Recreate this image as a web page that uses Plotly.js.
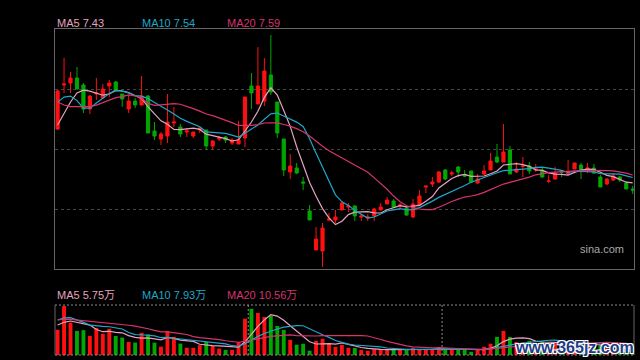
<!DOCTYPE html>
<html>
<head>
<meta charset="utf-8">
<script src="https://cdn.plot.ly/plotly-3.0.1.min.js"></script>
<style>
html,body{margin:0;padding:0;background:#000;}
#chart{width:640px;height:360px;}
</style>
</head>
<body>
<div id="chart"></div>
<script>
// ---- data ----
const dayIndex = Array.from({length: 90}, (_, i) => i);

const opens = [
  8.50, 9.38, 9.42, 9.52, 9.38, 8.90, 9.20, 9.12, 9.36, 9.44,
  9.20, 8.90, 9.06, 8.98, 9.16, 8.46, 8.30, 8.36, 8.62, 8.54,
  8.44, 8.36, 8.48, 8.48, 8.16, 8.30, 8.34, 8.22, 8.20, 8.32,
  9.36, 9.00, 9.06, 9.58, 9.04, 8.30, 7.64, 7.72, 7.44, 6.86,
  6.08, 6.06, 6.68, 6.68, 6.88, 6.94, 6.96, 6.74, 6.72, 6.76,
  6.88, 7.00, 7.06, 6.96, 6.92, 6.74, 6.98, 7.34, 7.40, 7.44,
  7.68, 7.60, 7.74, 7.58, 7.66, 7.42, 7.60, 7.68, 7.94, 7.84,
  8.08, 7.64, 7.75, 7.76, 7.68, 7.68, 7.45, 7.50, 7.66, 7.60,
  7.70, 7.78, 7.70, 7.72, 7.54, 7.40, 7.48, 7.54, 7.42, 7.30
];
const highs = [
  9.28, 9.92, 9.64, 9.74, 9.42, 9.18, 9.52, 9.40, 9.48, 9.46,
  9.20, 9.18, 9.12, 9.56, 9.18, 8.64, 8.44, 9.20, 8.94, 8.60,
  8.52, 8.44, 8.52, 8.48, 8.28, 8.36, 8.36, 8.32, 8.66, 9.14,
  9.62, 10.14, 9.92, 10.38, 9.04, 8.30, 8.00, 7.82, 7.54, 6.98,
  6.54, 6.62, 6.82, 6.88, 7.04, 7.02, 6.98, 6.80, 6.80, 6.92,
  7.02, 7.14, 7.10, 7.02, 6.94, 7.10, 7.28, 7.36, 7.54, 7.66,
  7.70, 7.66, 7.76, 7.68, 7.66, 7.60, 7.78, 8.02, 8.20, 8.60,
  8.16, 7.84, 7.94, 7.84, 7.80, 7.74, 7.58, 7.74, 7.68, 7.88,
  7.82, 7.82, 7.82, 7.80, 7.58, 7.52, 7.62, 7.56, 7.46, 7.36
];
const lows = [
  8.48, 9.22, 9.22, 9.30, 8.82, 8.80, 9.08, 9.10, 9.14, 9.26,
  8.94, 8.82, 8.92, 8.98, 8.42, 8.28, 8.18, 8.22, 8.54, 8.34,
  8.34, 8.32, 8.42, 8.08, 8.08, 8.26, 8.22, 8.18, 8.20, 8.14,
  8.90, 9.00, 8.96, 9.18, 8.32, 7.56, 7.50, 7.60, 7.28, 6.68,
  6.08, 5.74, 6.66, 6.62, 6.88, 6.84, 6.66, 6.66, 6.66, 6.66,
  6.88, 7.00, 6.92, 6.92, 6.76, 6.72, 6.98, 7.22, 7.34, 7.42,
  7.48, 7.56, 7.54, 7.54, 7.44, 7.40, 7.58, 7.68, 7.82, 7.84,
  7.60, 7.62, 7.54, 7.60, 7.64, 7.52, 7.42, 7.48, 7.54, 7.58,
  7.70, 7.50, 7.62, 7.60, 7.34, 7.38, 7.46, 7.44, 7.30, 7.20
];
const closes = [
  9.26, 9.40, 9.52, 9.30, 8.90, 9.16, 9.22, 9.30, 9.42, 9.26,
  9.10, 9.06, 8.98, 9.16, 8.42, 8.36, 8.40, 8.64, 8.64, 8.40,
  8.46, 8.44, 8.52, 8.16, 8.26, 8.32, 8.28, 8.28, 8.28, 9.14,
  9.22, 9.36, 9.66, 9.24, 8.42, 7.68, 7.76, 7.62, 7.42, 6.68,
  6.30, 6.52, 6.70, 6.74, 7.02, 6.96, 6.76, 6.76, 6.74, 6.90,
  6.94, 7.08, 6.94, 6.98, 6.78, 7.00, 7.16, 7.36, 7.44, 7.64,
  7.50, 7.62, 7.64, 7.56, 7.44, 7.50, 7.66, 7.86, 7.84, 8.04,
  7.60, 7.70, 7.76, 7.66, 7.70, 7.54, 7.46, 7.62, 7.64, 7.62,
  7.82, 7.68, 7.72, 7.62, 7.34, 7.50, 7.56, 7.48, 7.30, 7.28
];
// closes of the 19 sessions before the window (seed the moving averages)
const prevCloses = [10.60, 10.20, 9.30, 8.90, 9.16, 8.60, 8.30, 8.30, 8.40, 8.66,
                    8.40, 9.32, 10.20, 10.40, 9.16, 8.20, 8.42, 8.40, 8.62];

// volume in 万 shares
const volumes = [
  25.3, 49.0, 32.4, 24.1, 24.8, 19.2, 27.1, 21.3, 26.2, 19.0,
  17.4, 13.1, 12.4, 22.2, 20.6, 12.3, 8.4, 24.0, 18.1, 11.4,
  7.3, 7.2, 9.8, 13.1, 9.2, 6.4, 5.1, 5.2, 13.0, 36.3,
  46.2, 42.1, 38.0, 39.1, 29.0, 25.1, 15.2, 10.3, 11.2, 4.3,
  14.1, 16.2, 11.3, 8.2, 10.1, 7.2, 7.0, 5.1, 4.2, 5.8,
  5.7, 5.6, 5.0, 5.1, 4.9, 7.1, 5.8, 5.0, 5.6, 7.0,
  6.1, 5.7, 5.0, 5.6, 3.2, 5.1, 8.2, 11.3, 18.2, 24.1,
  18.0, 13.0, 12.5, 14.2, 11.8, 13.5, 10.9, 12.6, 13.1, 12.3,
  11.2, 9.8, 10.6, 9.5, 9.45, 6.8, 5.9, 5.2, 6.1, 4.75
];
const prevVolumes = [32, 38, 36, 34, 37, 33, 35, 36, 34, 35,
                     28.4, 30.0, 45.6, 50.0, 46.0, 35.5, 25.9, 30.3, 33.0];

const maPeriods = [5, 10, 20];
const priceLabels = ['MA5 7.43', 'MA10 7.54', 'MA20 7.59'];
const volumeLabels = ['MA5 5.75万', 'MA10 7.93万', 'MA20 10.56万'];

// ---- styling ----
const UP = '#ff1010', DOWN = '#00a800';
const maColors = ['#e6a3bf', '#1fa6c9', '#d6336f'];
const FONT = 'Liberation Sans, Arial, Noto Sans CJK SC, sans-serif';

function movingAvg(prev, vals, n) {
  const all = prev.concat(vals), off = prev.length;
  return vals.map((_, i) => {
    let s = 0;
    for (let k = 0; k < n; k++) s += all[off + i - k];
    return s / n;
  });
}

const traces = [];
traces.push({
  type: 'candlestick', x: dayIndex, open: opens, high: highs, low: lows, close: closes,
  xaxis: 'x', yaxis: 'y',
  increasing: {line: {color: UP, width: 1}, fillcolor: UP},
  decreasing: {line: {color: DOWN, width: 1}, fillcolor: DOWN},
  whiskerwidth: 0, hoverinfo: 'skip', showlegend: false
});
maPeriods.forEach((n, k) => {
  traces.push({
    type: 'scatter', mode: 'lines', x: dayIndex, y: movingAvg(prevCloses, closes, n),
    xaxis: 'x', yaxis: 'y', line: {color: maColors[k], width: 1.2},
    hoverinfo: 'skip', showlegend: false
  });
});
traces.push({
  type: 'bar', x: dayIndex, y: volumes, xaxis: 'x2', yaxis: 'y2', width: 0.6,
  marker: {color: closes.map((c, i) => c >= opens[i] ? UP : DOWN), line: {width: 0}},
  hoverinfo: 'skip', showlegend: false
});
maPeriods.forEach((n, k) => {
  traces.push({
    type: 'scatter', mode: 'lines', x: dayIndex, y: movingAvg(prevVolumes, volumes, n),
    xaxis: 'x2', yaxis: 'y2', line: {color: maColors[k], width: 1.2},
    hoverinfo: 'skip', showlegend: false
  });
});

const W = 640, H = 360, ML = 55, MR = 6, MT = 29, MB = 5;
const pw = W - ML - MR, ph = H - MT - MB;
const px = x => (x - ML) / pw;
const py = y => (H - MB - y) / ph;

const annotations = [];
const labelX = [55, 140, 225];
priceLabels.forEach((t, k) => annotations.push({
  text: t, xref: 'paper', yref: 'paper', x: px(labelX[k]), y: py(23),
  xanchor: 'left', yanchor: 'middle', showarrow: false,
  font: {family: FONT, size: 11, color: maColors[k]}
}));
volumeLabels.forEach((t, k) => annotations.push({
  text: t, xref: 'paper', yref: 'paper', x: px(labelX[k]), y: py(295),
  xanchor: 'left', yanchor: 'middle', showarrow: false,
  font: {family: FONT, size: 11, color: maColors[k]}
}));
annotations.push({
  text: 'sina.com', xref: 'paper', yref: 'paper', x: px(602), y: py(249),
  xanchor: 'center', yanchor: 'middle', showarrow: false,
  font: {family: FONT, size: 11, color: '#a8a8a8'}
});
annotations.push({
  text: 'www.365jz.com', xref: 'paper', yref: 'paper', x: px(574), y: py(347),
  xanchor: 'center', yanchor: 'middle', showarrow: false,
  font: {family: 'Liberation Sans, Arial, sans-serif', size: 16, weight: 700, color: '#1d3d86',
         shadow: '1px 1px 0 #fff, -1px -1px 0 #fff, 1px -1px 0 #fff, -1px 1px 0 #fff'}
});

const dotted = {color: '#8a8a8a', width: 1, dash: '2px,2px'};
const shapes = [
  {type: 'line', xref: 'paper', yref: 'y2 domain', x0: 0, x1: 0, y0: 0, y1: 1, line: {color: '#666', width: 1}},
  {type: 'line', xref: 'paper', yref: 'y2 domain', x0: 1, x1: 1, y0: 0, y1: 1, line: {color: '#666', width: 1}},
  {type: 'line', xref: 'paper', yref: 'y2 domain', x0: 0, x1: 1, y0: 1, y1: 1, line: dotted},
  {type: 'line', xref: 'paper', yref: 'y2 domain', x0: 0, x1: 1, y0: 0, y1: 0, line: dotted},
  {type: 'line', xref: 'x2', yref: 'y2 domain', x0: 29.5, x1: 29.5, y0: 0, y1: 1, line: dotted},
  {type: 'line', xref: 'x2', yref: 'y2 domain', x0: 59.5, x1: 59.5, y0: 0, y1: 1, line: dotted}
];

const layout = {
  width: W, height: H,
  margin: {l: ML, r: MR, t: MT, b: MB, pad: 0},
  paper_bgcolor: '#000', plot_bgcolor: '#000',
  showlegend: false, hovermode: false,
  xaxis: {domain: [0, 1], range: [-0.4, 89.2], anchor: 'y', showticklabels: false,
          showgrid: false, zeroline: false, ticks: '', showline: true, mirror: true,
          linecolor: '#666', linewidth: 1, rangeslider: {visible: false}},
  yaxis: {domain: [py(269), 1], range: [5.70, 10.50], anchor: 'x',
          tickvals: [6.90, 8.10, 9.30], showticklabels: false, ticks: '',
          showgrid: true, gridcolor: '#444', griddash: '3px,3px', gridwidth: 1,
          zeroline: false, showline: true, mirror: true, linecolor: '#666', linewidth: 1},
  xaxis2: {domain: [0, 1], range: [-0.4, 89.2], anchor: 'y2', showticklabels: false,
           showgrid: false, zeroline: false, ticks: '', showline: false},
  yaxis2: {domain: [0, py(305)], range: [0, 50], anchor: 'x2', showticklabels: false,
           showgrid: false, zeroline: false, ticks: '', showline: false},
  annotations: annotations,
  shapes: shapes,
  font: {family: FONT}
};

Plotly.newPlot('chart', traces, layout, {staticPlot: true, displayModeBar: false});
</script>
</body>
</html>
